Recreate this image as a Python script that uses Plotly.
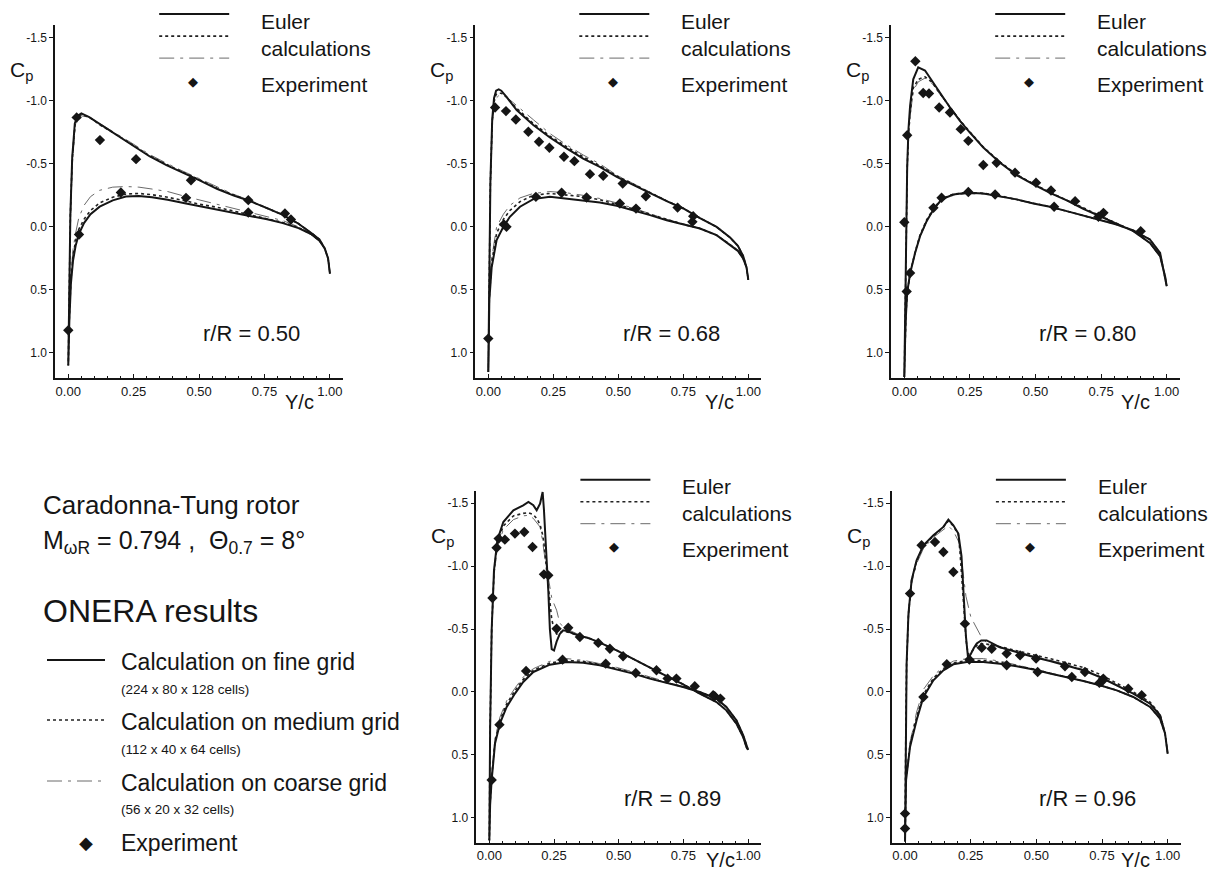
import plotly.graph_objects as go

W, H = 1215, 873
FONT = "Liberation Sans, Arial, Helvetica, sans-serif"
INK = "#151515"

# ---------------- data ----------------
RADII = ["r/R = 0.50", "r/R = 0.68", "r/R = 0.80", "r/R = 0.89", "r/R = 0.96"]
X_TICKS = [0.0, 0.25, 0.5, 0.75, 1.0]
X_TICKTEXT = ["0.00", "0.25", "0.50", "0.75", "1.00"]
Y_TICKS = [-1.5, -1.0, -0.5, 0.0, 0.5, 1.0]
Y_TICKTEXT = ["-1.5", "-1.0", "-0.5", "0.0", "0.5", "1.0"]

# r/R = 0.50
P1_X_UP = [0.0, 0.003, 0.008, 0.015, 0.025, 0.035, 0.05, 0.08, 0.12, 0.185, 0.25, 0.31, 0.375, 0.44, 0.5, 0.57, 0.63, 0.7, 0.76, 0.82, 0.88, 0.93, 0.96, 0.98, 0.993, 1.0]
P1_UP_FINE = [1.1, 0.55, -0.1, -0.55, -0.82, -0.88, -0.9, -0.87, -0.81, -0.725, -0.64, -0.56, -0.49, -0.425, -0.37, -0.3, -0.25, -0.2, -0.15, -0.095, -0.025, 0.05, 0.1, 0.17, 0.25, 0.37]
P1_UP_MED = [1.1, 0.55, -0.1, -0.53, -0.8, -0.87, -0.89, -0.87, -0.81, -0.73, -0.645, -0.565, -0.495, -0.43, -0.375, -0.305, -0.255, -0.2, -0.15, -0.095, -0.025, 0.05, 0.1, 0.17, 0.25, 0.37]
P1_UP_COARSE = [1.1, 0.6, 0.0, -0.48, -0.76, -0.85, -0.88, -0.87, -0.82, -0.74, -0.655, -0.575, -0.505, -0.44, -0.385, -0.315, -0.26, -0.205, -0.155, -0.1, -0.03, 0.045, 0.1, 0.17, 0.25, 0.37]
P1_X_LO = [0.0, 0.004, 0.01, 0.018, 0.028, 0.04, 0.06, 0.085, 0.12, 0.17, 0.22, 0.27, 0.32, 0.38, 0.45, 0.5, 0.57, 0.63, 0.7, 0.76, 0.82, 0.88, 0.93, 0.96, 0.98, 0.993, 1.0]
P1_LO_FINE = [1.1, 0.75, 0.45, 0.27, 0.15, 0.06, -0.03, -0.1, -0.16, -0.21, -0.24, -0.245, -0.235, -0.215, -0.185, -0.165, -0.14, -0.115, -0.085, -0.06, -0.03, 0.01, 0.06, 0.11, 0.17, 0.25, 0.37]
P1_LO_MED = [1.1, 0.73, 0.42, 0.23, 0.11, 0.02, -0.06, -0.13, -0.19, -0.235, -0.26, -0.265, -0.255, -0.235, -0.205, -0.18, -0.155, -0.125, -0.095, -0.065, -0.035, 0.005, 0.06, 0.11, 0.17, 0.25, 0.37]
P1_LO_COARSE = [1.1, 0.7, 0.38, 0.18, 0.05, -0.07, -0.17, -0.24, -0.29, -0.315, -0.32, -0.315, -0.3, -0.28, -0.24, -0.215, -0.18, -0.15, -0.115, -0.085, -0.05, 0.0, 0.05, 0.1, 0.17, 0.25, 0.37]
P1_EXP_X = [0.0, 0.032, 0.041, 0.121, 0.201, 0.259, 0.45, 0.469, 0.688, 0.688, 0.828, 0.851]
P1_EXP_CP = [0.82, -0.868, 0.061, -0.688, -0.272, -0.537, -0.23, -0.37, -0.212, -0.114, -0.106, -0.058]

# r/R = 0.68
P2_X_UP = [0.0, 0.003, 0.008, 0.015, 0.022, 0.03, 0.04, 0.05, 0.07, 0.109, 0.173, 0.237, 0.301, 0.365, 0.429, 0.494, 0.558, 0.622, 0.686, 0.75, 0.814, 0.878, 0.93, 0.96, 0.98, 0.993, 1.0]
P2_UP_FINE = [1.15, 0.45, -0.35, -0.85, -1.02, -1.08, -1.09, -1.08, -1.03, -0.926, -0.807, -0.709, -0.622, -0.542, -0.476, -0.397, -0.331, -0.27, -0.204, -0.146, -0.07, 0.0, 0.085, 0.15, 0.23, 0.32, 0.42]
P2_UP_MED = [1.15, 0.45, -0.35, -0.83, -0.99, -1.05, -1.06, -1.06, -1.03, -0.94, -0.82, -0.72, -0.635, -0.555, -0.485, -0.405, -0.335, -0.272, -0.206, -0.147, -0.07, 0.0, 0.085, 0.15, 0.23, 0.32, 0.42]
P2_UP_COARSE = [1.15, 0.5, -0.3, -0.8, -0.96, -1.02, -1.04, -1.05, -1.03, -0.966, -0.85, -0.74, -0.65, -0.57, -0.5, -0.41, -0.34, -0.275, -0.208, -0.148, -0.07, 0.0, 0.085, 0.15, 0.23, 0.32, 0.42]
P2_X_LO = [0.0, 0.004, 0.013, 0.032, 0.058, 0.083, 0.122, 0.173, 0.237, 0.301, 0.365, 0.429, 0.494, 0.558, 0.622, 0.686, 0.75, 0.814, 0.878, 0.93, 0.96, 0.98, 0.993, 1.0]
P2_LO_FINE = [1.15, 0.58, 0.32, 0.105, 0.0, -0.08, -0.16, -0.22, -0.238, -0.225, -0.212, -0.193, -0.167, -0.132, -0.093, -0.053, -0.019, 0.013, 0.066, 0.14, 0.19, 0.25, 0.32, 0.42]
P2_LO_MED = [1.15, 0.56, 0.28, 0.05, -0.06, -0.13, -0.2, -0.25, -0.265, -0.255, -0.24, -0.215, -0.18, -0.142, -0.1, -0.057, -0.02, 0.013, 0.066, 0.14, 0.19, 0.25, 0.32, 0.42]
P2_LO_COARSE = [1.15, 0.55, 0.25, 0.0, -0.1, -0.17, -0.23, -0.265, -0.28, -0.27, -0.25, -0.225, -0.19, -0.15, -0.105, -0.06, -0.022, 0.012, 0.066, 0.14, 0.19, 0.25, 0.32, 0.42]
P2_EXP_X = [0.0, 0.026, 0.068, 0.106, 0.154, 0.195, 0.235, 0.291, 0.331, 0.391, 0.442, 0.517, 0.606, 0.728, 0.788, 0.785, 0.06, 0.07, 0.183, 0.282, 0.378, 0.506, 0.568]
P2_EXP_CP = [0.886, -0.947, -0.918, -0.852, -0.754, -0.675, -0.627, -0.556, -0.521, -0.418, -0.405, -0.344, -0.243, -0.153, -0.085, -0.04, -0.02, 0.0, -0.238, -0.27, -0.233, -0.185, -0.145]

# r/R = 0.80
P3_X_UP = [0.0, 0.003, 0.006, 0.011, 0.016, 0.022, 0.034, 0.053, 0.079, 0.104, 0.136, 0.174, 0.212, 0.25, 0.301, 0.365, 0.428, 0.492, 0.555, 0.619, 0.682, 0.746, 0.809, 0.873, 0.936, 0.975, 0.994, 1.0]
P3_UP_FINE = [1.19, 0.75, 0.31, -0.48, -0.78, -0.96, -1.17, -1.265, -1.24, -1.17, -1.066, -0.947, -0.841, -0.748, -0.629, -0.509, -0.411, -0.337, -0.27, -0.21, -0.143, -0.085, -0.027, 0.034, 0.127, 0.233, 0.393, 0.47]
P3_UP_MED = [1.19, 0.75, 0.31, -0.46, -0.74, -0.9, -1.1, -1.17, -1.19, -1.15, -1.06, -0.95, -0.845, -0.752, -0.634, -0.514, -0.416, -0.341, -0.274, -0.213, -0.146, -0.087, -0.028, 0.034, 0.127, 0.233, 0.393, 0.47]
P3_UP_COARSE = [1.19, 0.78, 0.36, -0.42, -0.7, -0.87, -1.08, -1.15, -1.18, -1.14, -1.05, -0.945, -0.843, -0.75, -0.632, -0.512, -0.414, -0.34, -0.273, -0.212, -0.145, -0.086, -0.028, 0.034, 0.127, 0.233, 0.393, 0.47]
P3_X_LO = [0.0, 0.003, 0.006, 0.011, 0.022, 0.041, 0.06, 0.085, 0.111, 0.142, 0.187, 0.238, 0.301, 0.365, 0.428, 0.492, 0.555, 0.619, 0.682, 0.746, 0.809, 0.873, 0.936, 0.975, 0.994, 1.0]
P3_LO_FINE = [1.19, 0.9, 0.71, 0.52, 0.37, 0.207, 0.074, -0.045, -0.138, -0.218, -0.257, -0.27, -0.265, -0.244, -0.218, -0.186, -0.159, -0.125, -0.09, -0.058, -0.019, 0.029, 0.1, 0.207, 0.393, 0.47]
P3_LO_MED = [1.19, 0.9, 0.71, 0.52, 0.37, 0.2, 0.065, -0.055, -0.145, -0.222, -0.26, -0.272, -0.267, -0.246, -0.22, -0.188, -0.16, -0.126, -0.091, -0.058, -0.019, 0.029, 0.1, 0.207, 0.393, 0.47]
P3_LO_COARSE = [1.19, 0.9, 0.72, 0.53, 0.38, 0.21, 0.08, -0.04, -0.13, -0.21, -0.25, -0.262, -0.26, -0.24, -0.215, -0.184, -0.157, -0.124, -0.09, -0.058, -0.019, 0.029, 0.1, 0.207, 0.393, 0.47]
P3_EXP_X = [0.0, 0.011, 0.042, 0.072, 0.094, 0.133, 0.174, 0.215, 0.244, 0.301, 0.352, 0.422, 0.502, 0.559, 0.651, 0.759, 0.901, 0.009, 0.022, 0.111, 0.142, 0.244, 0.346, 0.571, 0.74]
P3_EXP_CP = [-0.037, -0.727, -1.313, -1.061, -1.058, -0.947, -0.907, -0.775, -0.682, -0.491, -0.509, -0.43, -0.35, -0.289, -0.204, -0.111, 0.034, 0.512, 0.366, -0.151, -0.231, -0.276, -0.257, -0.159, -0.08]

# r/R = 0.89
P4_X_UP = [0.0, 0.003, 0.009, 0.018, 0.031, 0.054, 0.093, 0.131, 0.151, 0.17, 0.183, 0.196, 0.206, 0.211, 0.216, 0.222, 0.228, 0.234, 0.241, 0.25, 0.26, 0.272, 0.285, 0.3, 0.337, 0.389, 0.427, 0.492, 0.556, 0.62, 0.685, 0.749, 0.813, 0.878, 0.916, 0.955, 0.981, 0.994, 1.0]
P4_UP_FINE = [1.18, 0.3, -0.49, -0.967, -1.206, -1.351, -1.444, -1.484, -1.51, -1.484, -1.444, -1.497, -1.59, -1.45, -1.2, -1.05, -0.8, -0.5, -0.34, -0.33, -0.4, -0.46, -0.49, -0.485, -0.455, -0.424, -0.392, -0.331, -0.265, -0.193, -0.125, -0.061, 0.013, 0.08, 0.146, 0.252, 0.358, 0.44, 0.46]
P4_UP_MED = [1.18, 0.3, -0.49, -0.95, -1.18, -1.32, -1.4, -1.42, -1.425, -1.41, -1.38, -1.33, -1.25, -1.18, -1.1, -0.98, -0.85, -0.72, -0.58, -0.5, -0.46, -0.47, -0.485, -0.48, -0.455, -0.424, -0.392, -0.331, -0.265, -0.193, -0.125, -0.061, 0.013, 0.08, 0.146, 0.252, 0.358, 0.44, 0.46]
P4_UP_COARSE = [1.18, 0.32, -0.45, -0.92, -1.15, -1.29, -1.37, -1.4, -1.404, -1.38, -1.35, -1.312, -1.2, -1.12, -1.05, -0.98, -0.9, -0.835, -0.75, -0.7, -0.65, -0.55, -0.517, -0.5, -0.464, -0.43, -0.395, -0.333, -0.266, -0.194, -0.126, -0.062, 0.013, 0.08, 0.146, 0.252, 0.358, 0.44, 0.46]
P4_X_LO = [0.0, 0.003, 0.009, 0.022, 0.041, 0.067, 0.099, 0.131, 0.17, 0.234, 0.299, 0.363, 0.427, 0.492, 0.556, 0.62, 0.685, 0.749, 0.813, 0.878, 0.916, 0.955, 0.981, 0.994, 1.0]
P4_LO_FINE = [1.18, 0.9, 0.7, 0.41, 0.25, 0.119, 0.013, -0.079, -0.159, -0.217, -0.238, -0.233, -0.212, -0.18, -0.146, -0.106, -0.074, -0.04, 0.0, 0.053, 0.119, 0.225, 0.344, 0.43, 0.46]
P4_LO_MED = [1.18, 0.89, 0.68, 0.39, 0.225, 0.095, -0.01, -0.1, -0.172, -0.23, -0.25, -0.243, -0.218, -0.187, -0.152, -0.11, -0.076, -0.04, 0.0, 0.053, 0.119, 0.225, 0.344, 0.43, 0.46]
P4_LO_COARSE = [1.18, 0.88, 0.66, 0.37, 0.2, 0.07, -0.03, -0.119, -0.185, -0.244, -0.265, -0.252, -0.225, -0.195, -0.159, -0.118, -0.08, -0.042, 0.0, 0.053, 0.119, 0.225, 0.344, 0.43, 0.46]
P4_EXP_X = [0.009, 0.012, 0.028, 0.036, 0.06, 0.099, 0.135, 0.167, 0.211, 0.228, 0.26, 0.305, 0.35, 0.421, 0.466, 0.517, 0.646, 0.723, 0.794, 0.871, 0.039, 0.142, 0.283, 0.45, 0.566, 0.689, 0.865, 0.893]
P4_EXP_CP = [0.70, -0.747, -1.147, -1.219, -1.211, -1.259, -1.272, -1.153, -0.935, -0.927, -0.503, -0.511, -0.437, -0.39, -0.344, -0.284, -0.172, -0.106, -0.045, 0.034, 0.26, -0.167, -0.257, -0.225, -0.151, -0.106, 0.026, 0.053]

# r/R = 0.96
P5_X_UP = [0.0, 0.003, 0.006, 0.013, 0.025, 0.044, 0.07, 0.108, 0.146, 0.165, 0.184, 0.203, 0.209, 0.215, 0.222, 0.228, 0.232, 0.24, 0.25, 0.262, 0.273, 0.29, 0.311, 0.362, 0.425, 0.489, 0.552, 0.615, 0.679, 0.742, 0.806, 0.869, 0.933, 0.971, 0.99, 1.0]
P5_UP_FINE = [1.19, 0.3, -0.225, -0.62, -0.888, -1.047, -1.166, -1.245, -1.312, -1.37, -1.325, -1.259, -1.17, -1.08, -0.82, -0.6, -0.44, -0.27, -0.3, -0.35, -0.385, -0.41, -0.41, -0.355, -0.318, -0.278, -0.246, -0.212, -0.172, -0.119, -0.053, 0.013, 0.093, 0.185, 0.33, 0.49]
P5_UP_MED = [1.19, 0.3, -0.225, -0.62, -0.885, -1.04, -1.16, -1.24, -1.31, -1.36, -1.32, -1.25, -1.12, -0.98, -0.75, -0.55, -0.42, -0.3, -0.31, -0.34, -0.37, -0.385, -0.38, -0.36, -0.33, -0.295, -0.265, -0.232, -0.195, -0.14, -0.07, 0.0, 0.08, 0.18, 0.33, 0.49]
P5_UP_COARSE = [1.19, 0.35, -0.18, -0.58, -0.86, -1.02, -1.14, -1.23, -1.29, -1.32, -1.28, -1.2, -1.15, -1.06, -0.94, -0.83, -0.76, -0.68, -0.6, -0.55, -0.5, -0.44, -0.39, -0.35, -0.325, -0.285, -0.253, -0.218, -0.178, -0.124, -0.057, 0.01, 0.09, 0.183, 0.33, 0.49]
P5_X_LO = [0.0, 0.004, 0.019, 0.044, 0.07, 0.108, 0.146, 0.184, 0.235, 0.298, 0.362, 0.425, 0.489, 0.552, 0.615, 0.679, 0.742, 0.806, 0.869, 0.933, 0.971, 0.99, 1.0]
P5_LO_FINE = [1.19, 0.7, 0.437, 0.225, 0.04, -0.093, -0.172, -0.22, -0.238, -0.238, -0.225, -0.204, -0.178, -0.146, -0.119, -0.087, -0.053, -0.013, 0.04, 0.119, 0.212, 0.33, 0.49]
P5_LO_MED = [1.19, 0.69, 0.42, 0.2, 0.02, -0.11, -0.185, -0.23, -0.25, -0.25, -0.235, -0.21, -0.182, -0.148, -0.12, -0.087, -0.053, -0.013, 0.04, 0.119, 0.212, 0.33, 0.49]
P5_LO_COARSE = [1.19, 0.68, 0.4, 0.16, -0.02, -0.13, -0.2, -0.245, -0.265, -0.265, -0.245, -0.215, -0.185, -0.15, -0.12, -0.087, -0.053, -0.013, 0.04, 0.119, 0.212, 0.33, 0.49]
P5_EXP_X = [0.0, 0.0, 0.019, 0.063, 0.114, 0.146, 0.184, 0.228, 0.245, 0.292, 0.33, 0.387, 0.438, 0.499, 0.609, 0.685, 0.755, 0.85, 0.901, 0.07, 0.159, 0.387, 0.505, 0.635, 0.74, 0.75]
P5_EXP_CP = [0.967, 1.086, -0.782, -1.166, -1.192, -1.113, -0.954, -0.543, -0.257, -0.352, -0.344, -0.305, -0.291, -0.265, -0.204, -0.159, -0.106, -0.026, 0.026, 0.04, -0.22, -0.212, -0.159, -0.119, -0.072, -0.085]

PANELS = [
    dict(xu=P1_X_UP, xl=P1_X_LO, up=[P1_UP_FINE, P1_UP_MED, P1_UP_COARSE], lo=[P1_LO_FINE, P1_LO_MED, P1_LO_COARSE], ex=P1_EXP_X, ey=P1_EXP_CP),
    dict(xu=P2_X_UP, xl=P2_X_LO, up=[P2_UP_FINE, P2_UP_MED, P2_UP_COARSE], lo=[P2_LO_FINE, P2_LO_MED, P2_LO_COARSE], ex=P2_EXP_X, ey=P2_EXP_CP),
    dict(xu=P3_X_UP, xl=P3_X_LO, up=[P3_UP_FINE, P3_UP_MED, P3_UP_COARSE], lo=[P3_LO_FINE, P3_LO_MED, P3_LO_COARSE], ex=P3_EXP_X, ey=P3_EXP_CP),
    dict(xu=P4_X_UP, xl=P4_X_LO, up=[P4_UP_FINE, P4_UP_MED, P4_UP_COARSE], lo=[P4_LO_FINE, P4_LO_MED, P4_LO_COARSE], ex=P4_EXP_X, ey=P4_EXP_CP),
    dict(xu=P5_X_UP, xl=P5_X_LO, up=[P5_UP_FINE, P5_UP_MED, P5_UP_COARSE], lo=[P5_LO_FINE, P5_LO_MED, P5_LO_COARSE], ex=P5_EXP_X, ey=P5_EXP_CP),
]

# ---------------- layout geometry (pixels) ----------------
BOXES = [  # x0, x1, ytop, ybottom
    (55.2, 343.0, 25.1, 378.2),
    (475.3, 761.3, 25.1, 378.2),
    (891.2, 1179.8, 25.1, 378.2),
    (476.4, 761.0, 490.7, 842.9),
    (891.9, 1180.8, 490.7, 842.9),
]

STYLES = [  # fine, medium, coarse
    dict(color=INK, width=2.0, dash="solid"),
    dict(color="#222222", width=1.6, dash="dot"),
    dict(color="#6a6a6a", width=1.0, dash="longdashdot"),
]


def px(x):
    return x / W


def py(y):
    return 1 - y / H


fig = go.Figure()
annotations = []
shapes = []


def ann(text, x, y, size, xanchor="left", yanchor="middle"):
    annotations.append(dict(text=text, x=px(x), y=py(y), xref="paper", yref="paper",
                            showarrow=False, xanchor=xanchor, yanchor=yanchor,
                            font=dict(family=FONT, size=size, color=INK)))


def hline(x0, x1, y, style):
    shapes.append(dict(type="line", xref="paper", yref="paper", x0=px(x0), x1=px(x1),
                       y0=py(y), y1=py(y), line=style))


for i, (p, box) in enumerate(zip(PANELS, BOXES), start=1):
    xa = "x" if i == 1 else f"x{i}"
    ya = "y" if i == 1 else f"y{i}"
    for g in (2, 1, 0):
        xs = list(reversed(p["xu"])) + p["xl"][1:]
        ys = list(reversed(p["up"][g])) + p["lo"][g][1:]
        fig.add_trace(go.Scatter(x=xs, y=ys, mode="lines", line=STYLES[g],
                                 xaxis=xa, yaxis=ya, showlegend=False, hoverinfo="skip"))
    fig.add_trace(go.Scatter(x=p["ex"], y=p["ey"], mode="markers",
                             marker=dict(symbol="diamond", size=8, color=INK),
                             xaxis=xa, yaxis=ya, showlegend=False, hoverinfo="skip"))

    x0, x1, yt, yb = box
    key = "" if i == 1 else str(i)
    fig.update_layout(**{
        f"xaxis{key}": dict(domain=[px(x0), px(x1)], range=[-0.05, 1.05], anchor=ya,
                            showline=True, linecolor=INK, linewidth=1.5, mirror=False,
                            showgrid=False, zeroline=False,
                            tickmode="array", tickvals=X_TICKS, ticktext=X_TICKTEXT,
                            ticks="inside", ticklen=4, tickcolor=INK,
                            minor=dict(ticks="inside", ticklen=2, dtick=0.05, tick0=0, tickcolor=INK, showgrid=False),
                            tickfont=dict(family=FONT, size=13, color=INK)),
        f"yaxis{key}": dict(domain=[py(yb), py(yt)], range=[1.2, -1.6], anchor=xa,
                            showline=True, linecolor=INK, linewidth=1.5,
                            showgrid=False, zeroline=False,
                            tickmode="array", tickvals=Y_TICKS, ticktext=Y_TICKTEXT,
                            ticks="outside", ticklen=4, tickcolor=INK,
                            tickfont=dict(family=FONT, size=12, color=INK)),
    })

    # in-panel key
    for k, dy in enumerate((-11, 11, 33)):
        hline(x0 + 104, x0 + 174, yt + dy, STYLES[k])
    ann("Euler", x0 + 204, yt - 4, 21)
    ann("calculations", x0 + 204, yt + 23, 21)
    ann("Experiment", x0 + 204, yt + 59, 21)
    ann("◆", x0 + 138, yt + 56, 13, xanchor="center")
    ann(RADII[i - 1], x0 + 196, yt + 308, 22, xanchor="center")
    ann("Y/c", x0 + 244, min(yb + 24, 860), 20, xanchor="center")
    ann("C<sub>p</sub>", x0 - 47, yt + 46, 21)

# ---------------- bottom-left text block ----------------
ann("Caradonna-Tung rotor", 41, 505, 26)
ann("M<sub>ωR</sub> = 0.794 ,&nbsp; Θ<sub>0.7</sub> = 8°", 41, 542, 25)
ann("ONERA results", 41, 611, 32)
GRID_NAMES = ["Calculation on fine grid", "Calculation on medium grid", "Calculation on coarse grid"]
GRID_CELLS = ["(224 x 80 x 128 cells)", "(112 x 40 x 64 cells)", "(56 x 20 x 32 cells)"]
for k, (yl, yc) in enumerate(((662, 689), (722, 749), (783, 809))):
    hline(47, 105, yl - 2, STYLES[k])
    ann(GRID_NAMES[k], 119, yl, 23)
    ann(GRID_CELLS[k], 119, yc, 13.5)
ann("◆", 86, 843, 18, xanchor="center")
ann("Experiment", 119, 843, 23)

fig.update_layout(width=W, height=H, margin=dict(l=0, r=0, t=0, b=0),
                  paper_bgcolor="white", plot_bgcolor="white",
                  annotations=annotations, shapes=shapes, showlegend=False)

fig.write_html("out.html", config={"displayModeBar": False},
               post_script="document.body.style.margin='0';document.body.style.overflow='hidden';")
